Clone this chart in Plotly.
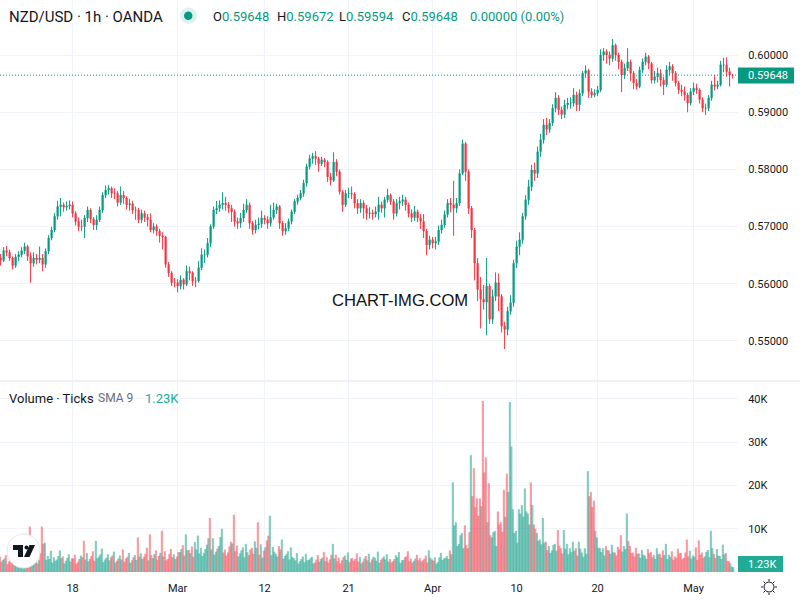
import pandas as pd
import plotly.graph_objects as go
from plotly.subplots import make_subplots

# prices, in units of 0.0001
first_open = 5645
closes = [
    5641, 5658, 5655, 5645, 5632, 5647, 5651, 5658, 5665, 5648,
    5636, 5645, 5642, 5645, 5634, 5657, 5680, 5694, 5718, 5735,
    5738, 5734, 5736, 5738, 5723, 5709, 5700, 5700, 5715, 5729,
    5713, 5703, 5712, 5729, 5755, 5764, 5767, 5758, 5758, 5742,
    5755, 5750, 5738, 5740, 5729, 5729, 5712, 5723, 5716, 5712,
    5694, 5700, 5692, 5684, 5682, 5634, 5619, 5602, 5602, 5596,
    5607, 5599, 5622, 5619, 5605, 5605, 5628, 5651, 5651, 5671,
    5700, 5729, 5732, 5738, 5741, 5738, 5732, 5726, 5709, 5706,
    5715, 5729, 5738, 5706, 5694, 5703, 5705, 5715, 5712, 5706,
    5716, 5729, 5735, 5706, 5692, 5697, 5709, 5726, 5744, 5750,
    5758, 5776, 5805, 5819, 5823, 5819, 5810, 5817, 5813, 5787,
    5781, 5813, 5796, 5761, 5738, 5758, 5758, 5757, 5741, 5732,
    5741, 5732, 5723, 5724, 5722, 5726, 5738, 5732, 5747, 5755,
    5744, 5723, 5741, 5744, 5747, 5738, 5723, 5716, 5726, 5715,
    5709, 5692, 5668, 5677, 5671, 5674, 5694, 5703, 5721, 5741,
    5738, 5732, 5741, 5793, 5845, 5796, 5732, 5694, 5636, 5590,
    5573, 5568, 5596, 5538, 5578, 5602, 5578, 5526, 5520, 5552,
    5567, 5636, 5665, 5677, 5718, 5747, 5770, 5799, 5793, 5831,
    5852, 5878, 5870, 5881, 5907, 5925, 5904, 5896, 5913, 5916,
    5916, 5930, 5913, 5933, 5968, 5973, 5936, 5930, 5933, 5939,
    6000, 6006, 6000, 5994, 6017, 6000, 5988, 5965, 5977, 5988,
    5968, 5951, 5945, 5974, 5988, 5997, 5985, 5956, 5962, 5968,
    5956, 5948, 5974, 5980, 5968, 5951, 5939, 5936, 5930, 5916,
    5936, 5942, 5939, 5922, 5907, 5907, 5925, 5948, 5945, 5948,
    5983, 5983, 5971, 5965, 5965,
]
highs = [
    5652, 5664, 5666, 5660, 5648, 5652, 5657, 5664, 5672, 5668,
    5655, 5655, 5652, 5665, 5652, 5662, 5685, 5700, 5724, 5745,
    5750, 5742, 5744, 5746, 5744, 5727, 5716, 5712, 5720, 5735,
    5732, 5717, 5720, 5735, 5760, 5772, 5773, 5770, 5767, 5762,
    5770, 5762, 5753, 5748, 5745, 5735, 5733, 5730, 5728, 5722,
    5723, 5706, 5704, 5696, 5690, 5684, 5638, 5622, 5610, 5608,
    5615, 5610, 5632, 5630, 5622, 5612, 5640, 5662, 5660, 5680,
    5704, 5735, 5745, 5746, 5760, 5752, 5743, 5738, 5730, 5716,
    5724, 5740, 5748, 5742, 5710, 5712, 5716, 5728, 5720, 5718,
    5738, 5742, 5740, 5738, 5710, 5706, 5714, 5730, 5748, 5756,
    5764, 5782, 5810, 5826, 5829, 5832, 5822, 5822, 5820, 5816,
    5794, 5830, 5818, 5800, 5764, 5764, 5768, 5770, 5760, 5748,
    5748, 5746, 5738, 5734, 5730, 5735, 5752, 5744, 5752, 5766,
    5758, 5748, 5748, 5752, 5756, 5752, 5742, 5730, 5736, 5730,
    5722, 5722, 5696, 5684, 5682, 5682, 5702, 5712, 5728, 5748,
    5750, 5780, 5750, 5800, 5852, 5848, 5800, 5736, 5698, 5645,
    5612, 5598, 5645, 5600, 5590, 5620, 5618, 5582, 5534, 5560,
    5580, 5642, 5675, 5690, 5724, 5755, 5782, 5808, 5812, 5840,
    5862, 5888, 5890, 5888, 5914, 5935, 5930, 5910, 5922, 5925,
    5926, 5942, 5936, 5940, 5972, 5982, 5976, 5942, 5940, 5946,
    6010, 6012, 6010, 6006, 6028, 6020, 6004, 5992, 5985, 6012,
    5992, 5972, 5958, 5980, 5994, 6004, 6000, 5988, 5972, 5978,
    5975, 5962, 5982, 5988, 5984, 5972, 5955, 5948, 5945, 5934,
    5942, 5952, 5950, 5942, 5926, 5915, 5930, 5955, 5965, 5955,
    5990, 5995, 5996, 5978, 5967,
]
lows = [
    5632, 5638, 5648, 5640, 5625, 5628, 5640, 5646, 5652, 5640,
    5602, 5630, 5634, 5636, 5622, 5628, 5652, 5676, 5690, 5712,
    5718, 5726, 5728, 5730, 5716, 5702, 5692, 5692, 5680, 5708,
    5706, 5694, 5694, 5708, 5724, 5750, 5756, 5750, 5748, 5735,
    5738, 5740, 5730, 5728, 5722, 5712, 5706, 5706, 5708, 5700,
    5690, 5688, 5684, 5672, 5660, 5628, 5612, 5596, 5594, 5585,
    5590, 5590, 5596, 5606, 5596, 5594, 5602, 5624, 5636, 5646,
    5664, 5696, 5722, 5726, 5730, 5728, 5724, 5708, 5700, 5696,
    5698, 5708, 5724, 5696, 5686, 5688, 5695, 5698, 5704, 5696,
    5700, 5712, 5722, 5696, 5684, 5686, 5692, 5704, 5722, 5738,
    5746, 5752, 5770, 5800, 5810, 5808, 5796, 5806, 5804, 5778,
    5772, 5778, 5788, 5756, 5726, 5734, 5750, 5748, 5732, 5722,
    5724, 5714, 5712, 5714, 5712, 5716, 5712, 5724, 5716, 5742,
    5738, 5712, 5718, 5730, 5736, 5728, 5716, 5708, 5710, 5708,
    5696, 5680, 5650, 5660, 5662, 5660, 5668, 5688, 5698, 5716,
    5725, 5684, 5724, 5736, 5790, 5780, 5722, 5680, 5606, 5570,
    5522, 5555, 5510, 5530, 5530, 5570, 5552, 5515, 5486, 5510,
    5546, 5560, 5628, 5650, 5670, 5712, 5738, 5762, 5780, 5785,
    5822, 5845, 5860, 5864, 5876, 5900, 5895, 5888, 5890, 5905,
    5906, 5910, 5902, 5902, 5928, 5960, 5925, 5925, 5926, 5928,
    5935, 5990, 5985, 5982, 5988, 5990, 5975, 5935, 5958, 5972,
    5955, 5940, 5940, 5942, 5968, 5982, 5975, 5950, 5950, 5952,
    5945, 5930, 5944, 5965, 5955, 5945, 5932, 5928, 5920, 5900,
    5912, 5930, 5932, 5915, 5900, 5895, 5902, 5920, 5938, 5940,
    5945, 5970, 5962, 5945, 5959,
]
# tick volume in thousands, two readings per candle
volumes = [
    3.5, 2.8, 3.9, 2.4, 4.2, 3.1, 2.2, 3.6, 4.6, 3.0,
    10.5, 4.4, 3.3, 2.7, 10.5, 6.8, 3.7, 4.9, 3.4, 2.9,
    5.0, 3.6, 2.6, 4.1, 3.2, 4.0, 2.3, 3.8, 7.2, 4.4,
    3.0, 4.8, 7.2, 3.6, 5.4, 2.9, 4.1, 3.4, 4.7, 2.6,
    3.8, 5.2, 3.1, 4.4, 2.7, 3.9, 8.0, 4.3, 3.5, 5.6,
    8.7, 3.2, 5.0, 3.7, 9.5, 4.8, 3.0, 5.3, 4.1, 3.6,
    4.6, 6.2, 8.7, 5.1, 5.9, 6.9, 8.4, 5.6, 4.4, 6.3,
    12.5, 7.8, 4.7, 6.0, 10.0, 5.2, 4.5, 7.0, 13.2, 6.1,
    4.3, 5.7, 6.5, 3.9, 5.6, 7.1, 11.5, 6.4, 4.9, 7.3,
    13.0, 5.8, 4.2, 6.0, 7.5, 3.7, 4.8, 5.7, 3.2, 4.4,
    2.5, 3.6, 4.2, 2.8, 3.5, 2.2, 3.9, 3.0, 4.6, 3.4,
    2.9, 6.5, 4.0, 3.3, 2.7, 3.8, 4.5, 3.1, 2.6, 4.3,
    3.5, 2.4, 3.7, 4.2, 2.9, 3.3, 4.7, 2.8, 3.6, 4.1,
    3.0, 2.5, 3.9, 4.6, 2.7, 3.4, 4.8, 3.1, 2.6, 4.0,
    3.2, 2.7, 3.8, 5.0, 2.9, 3.4, 2.3, 4.4, 3.1, 3.7,
    5.0, 20.7, 11.5, 6.5, 9.0, 10.8, 5.5, 27.0, 24.0, 17.0,
    17.0, 39.5, 26.5, 20.5, 8.0, 9.5, 14.0, 11.5, 19.0, 22.7,
    39.3, 14.5, 9.5, 14.5, 15.5, 19.3, 13.5, 20.7, 11.0, 9.0,
    7.5, 12.5, 7.0, 6.0, 5.0, 6.5, 9.7, 5.5, 9.7, 6.5,
    5.5, 7.0, 5.5, 7.0, 4.5, 5.5, 23.3, 18.5, 16.5, 8.0,
    5.5, 5.5, 6.0, 5.0, 6.3, 4.5, 5.8, 8.5, 6.0, 13.5,
    6.0, 4.5, 5.6, 4.3, 5.1, 3.8, 5.3, 4.6, 3.9, 5.5,
    4.2, 5.0, 6.5, 4.0, 4.8, 3.6, 5.4, 4.4, 3.3, 7.5,
    4.9, 3.8, 5.7, 7.3, 4.5, 3.6, 5.1, 9.5, 4.2, 5.3,
    3.7, 6.3, 4.4, 2.5, 1.23,
]
volumes_late = [
    2.4, 3.1, 1.8, 3.3, 2.6, 1.9, 3.0, 2.7, 2.1, 3.8,
    4.6, 2.5, 2.0, 4.4, 6.5, 2.8, 3.0, 2.2, 2.6, 3.7,
    3.2, 2.0, 3.3, 2.4, 3.1, 1.9, 3.0, 3.4, 2.9, 2.5,
    3.7, 2.6, 3.2, 4.1, 2.3, 3.3, 2.7, 3.8, 2.2, 3.1,
    2.9, 2.4, 3.5, 2.1, 3.4, 2.8, 3.6, 3.0, 4.2, 2.7,
    3.9, 4.1, 2.8, 4.4, 3.6, 2.7, 4.2, 3.4, 3.0, 4.6,
    5.3, 3.8, 5.0, 4.4, 3.5, 5.2, 4.3, 3.7, 5.3, 7.8,
    5.2, 4.0, 5.4, 8.1, 4.5, 3.8, 5.9, 6.6, 4.8, 3.6,
    5.0, 3.4, 4.6, 5.2, 4.2, 5.6, 4.0, 3.3, 5.7, 8.4,
    3.9, 4.7, 3.6, 5.2, 3.1, 4.1, 2.9, 3.5, 2.7, 2.0,
    3.0, 2.3, 2.7, 3.2, 2.0, 2.9, 2.4, 3.3, 2.6, 2.2,
    4.0, 3.1, 2.5, 2.0, 3.4, 2.8, 2.3, 3.2, 3.0, 2.4,
    2.0, 3.1, 2.7, 2.2, 3.5, 2.6, 2.1, 3.2, 2.9, 2.4,
    2.2, 3.0, 3.4, 2.1, 2.8, 3.6, 2.5, 2.2, 3.1, 2.7,
    2.4, 3.1, 2.2, 3.3, 2.6, 1.9, 3.4, 2.8, 3.3, 3.0,
    4.1, 10.8, 6.0, 8.5, 5.5, 6.2, 9.2, 17.5, 15.0, 13.0,
    15.2, 23.0, 11.5, 8.5, 9.2, 6.0, 11.0, 9.3, 12.8, 18.5,
    29.0, 9.0, 6.8, 13.5, 12.8, 14.0, 11.0, 15.5, 10.0, 7.2,
    6.4, 6.8, 5.0, 4.4, 6.2, 4.9, 6.1, 4.3, 5.4, 4.1,
    4.6, 4.9, 3.8, 5.4, 3.5, 4.2, 17.5, 15.0, 9.5, 5.6,
    4.6, 3.8, 5.1, 4.2, 4.6, 3.8, 5.2, 4.7, 5.3, 7.2,
    4.4, 3.6, 4.2, 3.3, 4.0, 3.0, 4.3, 3.4, 3.0, 4.1,
    3.3, 3.9, 3.0, 3.5, 2.8, 3.3, 4.3, 3.0, 4.5, 3.6,
    3.1, 3.5, 2.8, 4.0, 3.3, 4.6, 3.4, 5.5, 3.2, 3.8,
    3.0, 4.1, 2.6, 2.0, 1.1,
]
# tall volume bars whose colour reads differently from the coarser candle above them
volume_up_spikes = [32, 62, 66, 74, 90, 94, 111, 151, 157, 170, 175, 181, 196, 209, 237]
volume_down_spikes = [10, 14, 28, 46, 50, 54, 70, 78, 86, 158, 161, 162, 169, 177, 197, 198]
last_price = 0.59648

tick_dates = ["2025-02-18 00:00", "2025-02-28 18:00", "2025-03-12 00:00", "2025-03-21 00:00",
              "2025-04-01 00:00", "2025-04-10 00:00", "2025-04-18 18:00", "2025-04-30 18:00"]
tick_labels = ["18", "Mar", "12", "21", "Apr", "10", "20", "May"]
volume_ticks = [10, 20, 30, 40]

GREEN = "#089981"
RED = "#F23645"
TEXT = "#131722"
GRID = "#F0F3FA"
FONT = "Roboto"
PLOT_W = 738
PLOT_H = 572


def px(x):
    return x / PLOT_W


def py(y):
    return 1 - y / PLOT_H


def label(x, y, text, size=12, color=TEXT, family=FONT):
    fig.add_annotation(x=px(x), y=py(y), xref="paper", yref="paper", text=text, showarrow=False,
                       xanchor="left", yanchor="middle", align="left", borderpad=0,
                       font=dict(size=size, color=color, family=family))


hours = pd.date_range("2025-02-10 00:00", periods=400, freq="6h")
dates = [d.strftime("%Y-%m-%d %H:%M") for d in hours if d.dayofweek < 5][:len(closes)]
opens = [first_open] + closes[:-1]
up_green = "rgba(8,153,129,0.5)"
down_red = "rgba(242,54,69,0.5)"
bar_colors = [up_green if c >= o else down_red for o, c in zip(opens, closes)]
for i in volume_up_spikes:
    bar_colors[i] = up_green
for i in volume_down_spikes:
    bar_colors[i] = down_red
late_colors = [up_green if 2 * c >= h + l else down_red for c, h, l in zip(closes, highs, lows)]

fig = make_subplots(rows=2, cols=1, shared_xaxes=True, vertical_spacing=0.01)

fig.add_trace(go.Candlestick(
    x=dates,
    open=[v / 10000 for v in opens],
    high=[v / 10000 for v in highs],
    low=[v / 10000 for v in lows],
    close=[v / 10000 for v in closes],
    increasing=dict(line=dict(color=GREEN, width=1), fillcolor=GREEN),
    decreasing=dict(line=dict(color=RED, width=1), fillcolor=RED),
    whiskerwidth=0,
    name="NZD/USD",
), row=1, col=1)
fig.add_trace(go.Bar(x=dates, y=volumes_late, width=0.7, offset=-0.1,
                     marker=dict(color=late_colors, line_width=0), name="Volume"), row=2, col=1)
fig.add_trace(go.Bar(x=dates, y=volumes, width=0.7, offset=-0.6,
                     marker=dict(color=bar_colors, line_width=0), name="Volume"), row=2, col=1)

fig.update_xaxes(type="category", range=[-0.2, 245.8], tickmode="array", tickvals=tick_dates, ticktext=tick_labels,
                 showgrid=True, gridcolor=GRID, gridwidth=1, zeroline=False, showline=False,
                 rangeslider_visible=False, ticks="outside", ticklen=6, tickcolor="rgba(0,0,0,0)",
                 tickfont=dict(size=11, color=TEXT, family=FONT))
fig.update_yaxes(side="right", showgrid=True, gridcolor=GRID, gridwidth=1, zeroline=False, showline=False,
                 ticks="outside", ticklen=7, tickcolor="rgba(0,0,0,0)",
                 tickfont=dict(size=11, color=TEXT, family=FONT))
fig.update_yaxes(range=[0.54318, 0.60962], tick0=0.5, dtick=0.01, tickformat=".5f", row=1, col=1)
fig.update_yaxes(range=[0, 43.9], tickmode="array", tickvals=volume_ticks,
                 ticktext=[f"{v}K" for v in volume_ticks], row=2, col=1)

fig.update_layout(
    width=800,
    height=600,
    margin=dict(l=0, r=62, t=0, b=28),
    paper_bgcolor="white",
    plot_bgcolor="white",
    showlegend=False,
    barmode="overlay",
    boxgap=0.45,
    yaxis=dict(domain=[1 - 380 / PLOT_H, 1]),
    yaxis2=dict(domain=[0, 1 - 382 / PLOT_H]),
)

# pane separator and last price line
fig.add_shape(type="line", xref="paper", yref="paper", x0=0, x1=800 / PLOT_W, y0=py(381), y1=py(381),
              line=dict(color="#E0E3EB", width=1))
fig.add_shape(type="line", xref="paper", yref="y", x0=0, x1=1, y0=last_price, y1=last_price,
              line=dict(color=GREEN, width=1, dash="1px,2px"))
fig.add_shape(type="rect", xref="paper", yref="paper", x0=px(738), x1=px(794), y0=py(83.5), y1=py(67.5),
              fillcolor=GREEN, line_width=0)
fig.add_shape(type="rect", xref="paper", yref="paper", x0=px(738), x1=px(783), y0=py(572), y1=py(556),
              fillcolor="#22AB94", line_width=0)

# market status dot
fig.add_shape(type="circle", xref="paper", yref="paper", x0=px(180), x1=px(197), y0=py(24), y1=py(7.5),
              fillcolor="#DDF2EE", line_width=0)
fig.add_shape(type="circle", xref="paper", yref="paper", x0=px(184), x1=px(192.5), y0=py(20), y1=py(11.5),
              fillcolor=GREEN, line_width=0)

# logo badge
fig.add_shape(type="circle", xref="paper", yref="paper", x0=px(7), x1=px(40), y0=py(568), y1=py(534),
              fillcolor="white", line=dict(color="#E6E8EE", width=1))
fig.add_shape(type="path", xref="paper", yref="paper", fillcolor=TEXT, line_width=0,
              path=f"M{px(13)},{py(545)} H{px(23)} V{py(557)} H{px(18)} V{py(550)} H{px(13)} Z "
                   f"M{px(35)},{py(545)} L{px(29.5)},{py(557)} H{px(24)} L{px(29.5)},{py(545)} Z")
fig.add_shape(type="circle", xref="paper", yref="paper", x0=px(24.5), x1=px(28.5), y0=py(549.5), y1=py(545.5),
              fillcolor=TEXT, line_width=0)

# settings icon
fig.add_shape(type="circle", xref="paper", yref="paper", x0=px(764), x1=px(774), y0=py(592), y1=py(582),
              line=dict(color=TEXT, width=1))
fig.add_shape(type="path", xref="paper", yref="paper", line=dict(color=TEXT, width=1),
              path=f"M{px(769)},{py(579)} V{py(581)} M{px(769)},{py(593)} V{py(595)} "
                   f"M{px(761)},{py(587)} H{px(763)} M{px(775)},{py(587)} H{px(777)} "
                   f"M{px(763.5)},{py(581.5)} L{px(765)},{py(583)} M{px(773)},{py(591)} L{px(774.5)},{py(592.5)} "
                   f"M{px(774.5)},{py(581.5)} L{px(773)},{py(583)} M{px(765)},{py(591)} L{px(763.5)},{py(592.5)}")

label(8, 17, "NZD/USD · 1h · OANDA", size=15)
for x, letter, value in [(212, "O", "0.59648"), (276, "H", "0.59672"), (338, "L", "0.59594"), (401, "C", "0.59648")]:
    label(x, 17, f'{letter}<span style="color:{GREEN}">{value}</span>', size=13)
label(469, 17, "0.00000 (0.00%)", size=13, color=GREEN)

label(8, 398, "Volume · Ticks", size=13)
label(97, 398, "SMA 9", size=12, color="#6A6D78")
label(144, 398, "1.23K", size=13, color="#22AB94")

label(747, 75.5, "0.59648", size=11, color="white")
label(747, 564, "1.23K", size=11, color="white")
label(331, 300, "CHART-IMG.COM", size=16.6, color="#111111", family="Liberation Sans")

fig.write_html("out.html", post_script="document.body.style.margin='0';", config=dict(displayModeBar=False))
